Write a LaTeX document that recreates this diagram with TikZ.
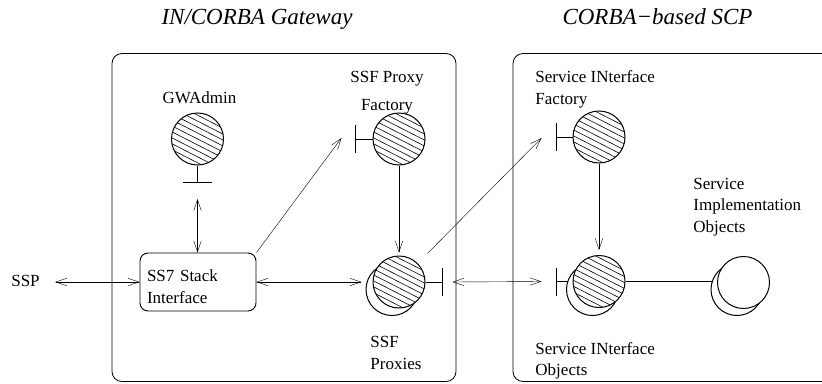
\documentclass[tikz,border=0pt]{standalone}
\usepackage{fontspec}
\setmainfont{Liberation Serif}
\usetikzlibrary{arrows.meta,calc}
\pgfdeclarelayer{bg}
\pgfsetlayers{bg,main}
\begin{document}
\begin{tikzpicture}[x=1pt,y=-1pt, line width=0.9pt,
  >={Straight Barb[length=11pt,width=7.5pt]},
  lbl/.style={font=\fontsize{17}{21.5}\selectfont, inner sep=0pt, align=left},
  ttl/.style={font=\fontsize{23}{28}\selectfont\itshape, inner sep=0pt},
  obj/.style={circle, draw, fill=white, minimum size=52pt, inner sep=0pt, line width=1pt},
  hatched/.style={obj, path picture={\foreach \k in {-5,...,5}{\draw[line width=0.6pt] ($(path picture bounding box.center)+(-2.41*\k-35.6,4.72*\k-18.2)$) -- ++(71.2,36.3);}}},
  frame/.style={draw, rounded corners=10pt, line width=0.8pt}
]
\useasboundingbox (0,0) rectangle (822,383);

% titles
\node[ttl, anchor=base] (tgw) at (257,24) {IN/CORBA Gateway};
\node[ttl, anchor=base] (tscp) at (657.5,24) {CORBA−based SCP};

% containers
\node[frame, minimum width=344pt, minimum height=328pt, inner sep=0pt] (gw) at (284,217.5) {};
\draw[frame] (823,53.5) -- (513,53.5) -- (513,381.5) -- (823,381.5);

% SS7 box
\node[draw, rounded corners=8pt, lbl, text width=102pt, inner xsep=7pt, minimum width=116pt, minimum height=58pt] (ss7) at (198,282) {\rule{0pt}{21.6pt}SS7 Stack\\Interface};

% labels
\node[lbl, anchor=base] (ssp) at (25.5,286.7) {SSP};
\node[lbl, anchor=base] (gwat) at (199.5,103.3) {GWAdmin};
\node[lbl, anchor=north, align=center] (sspft) at (387,71.2) {SSF Proxy\\[6pt]Factory};
\node[lbl, anchor=north west] (ssfpt) at (370,335.8) {SSF\\Proxies};
\node[lbl, anchor=north west] (sift) at (535,70.2) {Service INterface\\Factory};
\node[lbl, anchor=north west] (simt) at (693,177.5) {Service\\Implementation\\Objects};
\node[lbl, anchor=north west] (siot) at (535,341.8) {Service INterface\\Objects};

% objects
\node[hatched] (gwa) at (197.5,139) {};
\node[hatched] (sspf) at (399,139) {};
\node[obj] (ssfpb) at (392,289.5) {};
\node[hatched] (ssfp) at (399,282) {};
\node[hatched] (sif) at (599,137) {};
\node[obj] (siob) at (592.5,289.5) {};
\node[hatched] (sio) at (599,281.5) {};
\node[obj] (simb) at (737,289.5) {};
\node[obj] (sim) at (743.5,282.5) {};

\begin{pgfonlayer}{bg}
  % interface bars
  \draw (gwa.south) -- ++(0,17) coordinate (gwab);
  \draw ($(gwab)+(-14.5,0)$) -- ($(gwab)+(14.5,0)$);
  \draw (sspf.west) -- ++(-17,0) coordinate (sspfb);
  \draw ($(sspfb)+(0,-14)$) -- ($(sspfb)+(0,14)$);
  \draw (ssfp.east) -- ++(17,0) coordinate (ssfpbar);
  \draw ($(ssfpbar)+(0,-14)$) -- ($(ssfpbar)+(0,14)$);
  \draw (sif.west) -- ++(-16,0) coordinate (sifb);
  \draw ($(sifb)+(0,-14)$) -- ($(sifb)+(0,14)$);
  \draw (sio.west) -- ++(-16,0) coordinate (siobar);
  \draw ($(siobar)+(0,-14)$) -- ($(siobar)+(0,14)$);
  % connectors
  \draw[<->] ($(ssp.east |- ss7.west)+(15,0)$) -- (ss7.west);
  \draw[<->] ($(gwab)+(0,16.5)$) -- (gwab |- ss7.north);
  \draw[->] (ss7.north east) -- ($(sspfb)+(-14,-1)$);
  \draw[->, shorten >=3pt] (sspf.south) -- (ssfp.north);
  \draw[<->, shorten >=4pt] (ss7.east) -- (ss7.east -| ssfpb.west);
  \draw[<->] ($(ssfpbar)+(10,0)$) -- ($(siobar)+(-15,0)$);
  \draw[->, shorten <=14pt] (ssfp.45) -- ($(sifb)+(-15,1)$);
  \draw[->, shorten >=5pt] (sif.south) -- (sio.north);
  \draw (sio.east) -- (sio.east -| simb.center);
\end{pgfonlayer}
\end{tikzpicture}
\end{document}
